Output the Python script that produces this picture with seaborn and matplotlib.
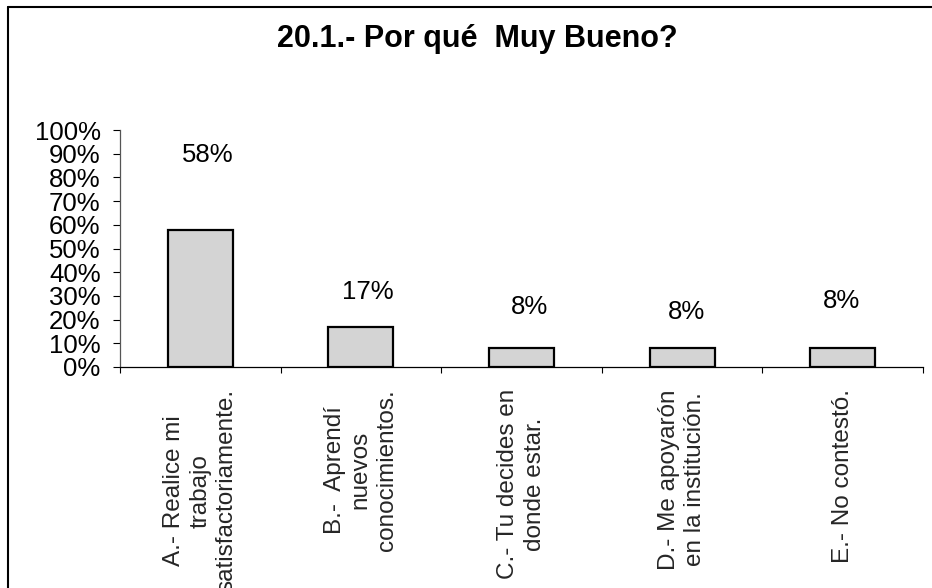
import matplotlib
matplotlib.use("Agg")
import matplotlib.pyplot as plt
from matplotlib.lines import Line2D
import seaborn as sns
import pandas as pd

# Survey answers and their shares
categories = [
    "A.- Realice mi\ntrabajo\nsatisfactoriamente.",
    "B.-  Aprendí\nnuevos\nconocimientos.",
    "C.- Tu decides en\ndonde estar.",
    "D.- Me apoyarón\nen la institución.",
    "E.- No contestó.",
]
shares = [0.58, 0.17, 0.08, 0.08, 0.08]
y_tick_values = [0.0, 0.1, 0.2, 0.3, 0.4, 0.5, 0.6, 0.7, 0.8, 0.9, 1.0]
y_tick_labels = ["0%", "10%", "20%", "30%", "40%", "50%", "60%", "70%", "80%", "90%", "100%"]
title = "20.1.- Por qué  Muy Bueno?"

# Where the percentage labels sit (data units)
label_y = [0.895, 0.316, 0.253, 0.232, 0.278]
label_dx = [0.045, 0.045, 0.05, 0.025, -0.005]

sns.set_theme(style="white")
plt.rcParams["font.family"] = ["Liberation Sans", "DejaVu Sans"]

W, H = 932, 588
fig = plt.figure(figsize=(W / 100, H / 100), dpi=100)
fig.patch.set_facecolor("white")

# Chart-area frame (left and top edges)
lw_frame = 1.5
fig.add_artist(Line2D([8 / W, 8 / W], [1 - 7 / H, -0.05], transform=fig.transFigure,
                      color="black", lw=lw_frame))
fig.add_artist(Line2D([8 / W, 1.05], [1 - 7 / H, 1 - 7 / H], transform=fig.transFigure,
                      color="black", lw=lw_frame))

left, right = 120 / W, 923 / W
bottom, top = 1 - 367 / H, 1 - 130 / H
ax = fig.add_axes([left, bottom, right - left, top - bottom])

df = pd.DataFrame({"cat": categories, "share": shares})
sns.barplot(data=df, x="cat", y="share", ax=ax, color="#d4d4d4", saturation=1,
            edgecolor="black", linewidth=1.6, width=0.405)

ax.set_xlim(-0.5, len(categories) - 0.5)
ax.set_ylim(0, 1)
ax.set_xlabel("")
ax.set_ylabel("")

# y axis
ax.set_yticks(y_tick_values)
ax.set_yticklabels(y_tick_labels, fontsize=18.5, color="black")
ax.tick_params(axis="y", which="major", direction="out", length=5, width=0.8,
               color="black", pad=9, left=True)

# x axis: ticks at category boundaries, labels centred under bars
ax.set_xticks([i - 0.5 for i in range(len(categories) + 1)])
ax.set_xticklabels([""] * (len(categories) + 1))
ax.set_xticks(range(len(categories)), minor=True)
ax.set_xticklabels(categories, minor=True, rotation=90, fontsize=17.5,
                   va="top", ha="center", multialignment="center",
                   linespacing=1.25)
ax.tick_params(axis="x", which="major", direction="out", length=4, width=0.8,
               color="black", bottom=True)
ax.tick_params(axis="x", which="minor", length=0, pad=16, bottom=True)

for s in ["top", "right"]:
    ax.spines[s].set_visible(False)
ax.spines["left"].set_color("#555555")
ax.spines["left"].set_linewidth(0.9)
ax.spines["bottom"].set_color("black")
ax.spines["bottom"].set_linewidth(0.9)
ax.grid(False)
ax.set_facecolor("white")

for i, v in enumerate(shares):
    ax.text(i + label_dx[i], label_y[i], f"{round(v * 100):.0f}%",
            ha="center", va="center", fontsize=18.5, color="black")

fig.text(0.512, 1 - 47 / H, title, ha="center", va="baseline",
         fontsize=22, fontweight="bold", color="black")

fig.savefig("out.png", dpi=100, facecolor="white")
